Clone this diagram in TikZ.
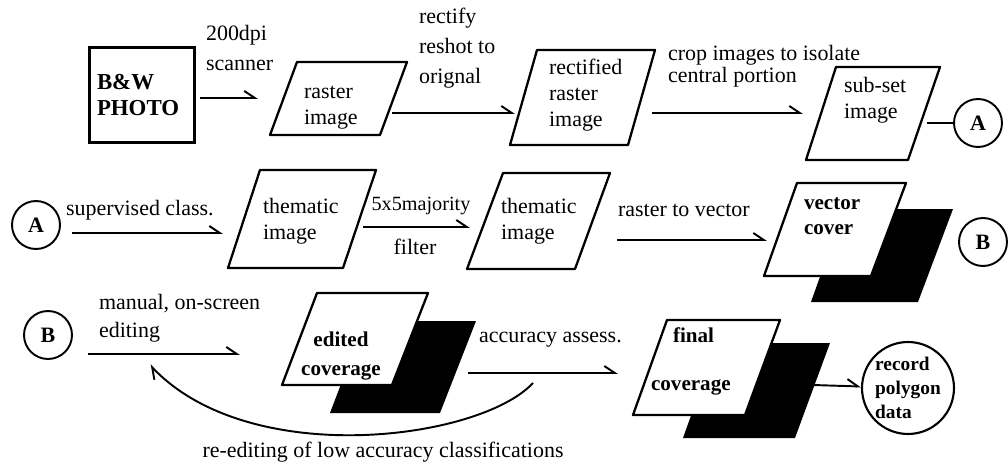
\documentclass[tikz,border=0pt]{standalone}
\usepackage{fontspec}
\setmainfont{Liberation Serif}
\usetikzlibrary{arrows.meta}

\begin{document}
\begin{tikzpicture}[x=0.02cm, y=-0.02cm, line width=1.2pt,
  flow/.style={line width=1.1pt, -{Straight Barb[left, length=6pt, width=8pt]}},
  lbl/.style={anchor=west, align=left, inner sep=0pt, font=\fontsize{12.5}{15}\selectfont},
  heavy/.style={anchor=west, align=left, inner sep=0pt, font=\bfseries\fontsize{12}{14.5}\selectfont},
  imgbox/.style={draw, fill=white, line width=1.3pt, line join=round},
  layer/.style={fill=black},
  conn/.style={draw, circle, line width=1.1pt, minimum size=0.96cm, inner sep=0pt,
    font=\bfseries\fontsize{12.5}{15}\selectfont}]

\useasboundingbox (0,0) rectangle (1008,466);

% Row 1: photo to sub-set image
\node[draw, line width=1.3pt, minimum width=2.1cm, minimum height=1.9cm, text width=1.8cm,
  align=left, font=\bfseries\fontsize{13}{15}\selectfont] (photo) at (142,95) {B\&W\\PHOTO};

\node[lbl, font=\fontsize{12.5}{17}\selectfont] (scanlbl) at (205,48) {200dpi\\scanner};
\coordinate (scan0) at (200,98);
\coordinate (scan1) at (258,98);
\draw[flow] (scan0) -- (scan1);

\draw[imgbox] (297,62) -- (407,62) -- (380,135) -- (270,135) -- cycle;
\node[lbl, font=\fontsize{12.5}{15}\selectfont] (raster) at (303,108) {raster\\image};

\node[lbl, font=\fontsize{12.5}{17}\selectfont] (rectlbl) at (418,48) {rectify\\reshot to\\orignal};
\coordinate (rect0) at (392,113);
\coordinate (rect1) at (515,113);
\draw[flow] (rect0) -- (rect1);

\draw[imgbox] (537,50) -- (655,50) -- (628,145) -- (510,145) -- cycle;
\node[lbl] (rectified) at (548,95) {rectified\\raster\\image};

\node[lbl, font=\fontsize{12.5}{12.5}\selectfont] (croplbl) at (667,66) {crop images to isolate\\central portion};
\coordinate (crop0) at (652,113);
\coordinate (crop1) at (803,113);
\draw[flow] (crop0) -- (crop1);

\draw[imgbox] (836,67) -- (940,67) -- (908,160) -- (806,160) -- cycle;
\node[lbl] (subset) at (843,100) {sub-set\\image};

\node[conn] (A1) at (978,123) {A};
\coordinate (sub0) at (927,123);
\draw[line width=1.1pt] (sub0) -- (A1);

% Row 2: classification to vector cover
\node[conn] (A2) at (36,225) {A};
\node[lbl] (classlbl) at (65,210) {supervised class.};
\coordinate (class0) at (72,233);
\coordinate (class1) at (223,233);
\draw[flow] (class0) -- (class1);

\draw[imgbox] (260,170) -- (376,170) -- (343,268) -- (228,268) -- cycle;
\node[lbl] (thematic1) at (262,221) {thematic\\image};

\node[lbl, anchor=center, font=\fontsize{11.5}{14}\selectfont] (majlbl) at (421,206) {5x5majority};
\node[lbl, anchor=center] (filterlbl) at (415,247) {filter};
\coordinate (maj0) at (363,227);
\coordinate (maj1) at (470,227);
\draw[flow] (maj0) -- (maj1);

\draw[imgbox] (503,173) -- (610,173) -- (575,269) -- (467,269) -- cycle;
\node[lbl] (thematic2) at (500,221) {thematic\\image};

\node[lbl] (veclbl) at (617,210) {raster to vector};
\coordinate (vec0) at (617,240);
\coordinate (vec1) at (767,240);
\draw[flow] (vec0) -- (vec1);

\fill[layer] (844,209) -- (953,209) -- (918,302) -- (811,302) -- cycle;
\draw[imgbox] (797,183) -- (906,183) -- (871,276) -- (764,276) -- cycle;
\node[heavy] (vector) at (803,216) {vector\\cover};

\node[conn] (B1) at (983,242) {B};

% Row 3: editing to polygon data
\node[conn] (B2) at (48,335) {B};
\node[lbl, font=\fontsize{12.5}{16}\selectfont] (editlbl) at (98,318) {manual, on-screen\\editing};
\coordinate (edit0) at (88,354);
\coordinate (edit1) at (240,354);
\draw[flow] (edit0) -- (edit1);

\fill[layer] (365,321) -- (476,321) -- (440,413) -- (330,413) -- cycle;
\draw[imgbox] (317,293) -- (428,293) -- (392,385) -- (282,385) -- cycle;
\node[heavy, anchor=center, align=center, font=\bfseries\fontsize{12}{16}\selectfont] (edited) at (341,356) {edited\\coverage};

\node[lbl] (acclbl) at (478,340) {accuracy assess.};
\coordinate (acc0) at (468,373);
\coordinate (acc1) at (618,373);
\draw[flow] (acc0) -- (acc1);

\fill[layer] (717,343) -- (830,343) -- (795,438) -- (683,438) -- cycle;
\draw[imgbox] (667,320) -- (780,320) -- (745,415) -- (633,415) -- cycle;
\node[heavy] (finaltop) at (672,335) {final};
\node[heavy] (finalbot) at (650,387) {coverage};

\node[draw, circle, line width=1.2pt, minimum size=1.84cm, inner sep=0pt] (record) at (908,388) {};
\node[heavy, anchor=center, font=\bfseries\fontsize{11}{13.5}\selectfont] (recordtxt) at (record) {record\\polygon\\data};
\coordinate (rec0) at (813,385);
\draw[flow] (rec0) -- (record);

% Loop back for re-editing
\coordinate (loop0) at (533,383);
\coordinate (loop1) at (150,365);
\draw[flow] (loop0) .. controls (480,440) and (250,470) .. (loop1);
\node[lbl, anchor=center] (looplbl) at (383,452) {re-editing of low accuracy classifications};

\end{tikzpicture}
\end{document}
